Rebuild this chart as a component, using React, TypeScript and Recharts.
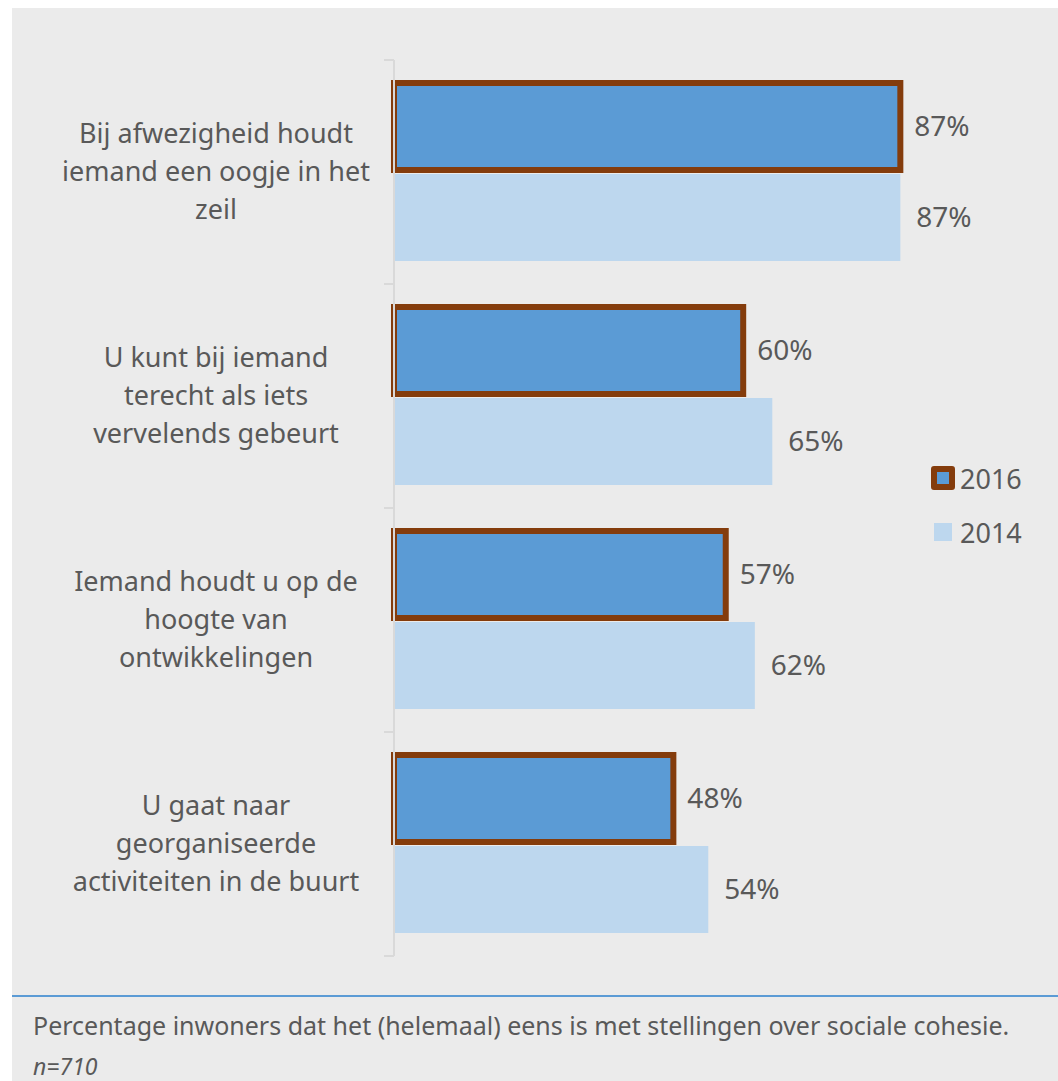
import { BarChart, Bar, XAxis, YAxis, LabelList } from "recharts";

const categories = [
  ["Bij afwezigheid houdt", "iemand een oogje in het", "zeil"],
  ["U kunt bij iemand", "terecht als iets", "vervelends gebeurt"],
  ["Iemand houdt u op de", "hoogte van", "ontwikkelingen"],
  ["U gaat naar", "georganiseerde", "activiteiten in de buurt"],
];
const values2016 = [87, 60, 57, 48];
const values2014 = [87, 65, 62, 54];
const seriesNames = ["2016", "2014"];

const data = categories.map((lines, i) => ({
  name: lines.join(" "),
  lines,
  y2016: values2016[i],
  y2014: values2014[i],
}));

const W = 1058;
const H = 1081;
const margin = { top: 60, right: 82, bottom: 125, left: 0 };
const FONT = "'Noto Sans', 'Open Sans', sans-serif";
const TEXT = "#595959";

function CategoryTick(props: any) {
  const { x, y, payload, index } = props;
  const lines: string[] = data[payload.index ?? index]?.lines ?? [payload.value];
  const band = (H - margin.top - margin.bottom) / categories.length;
  const lh = 38;
  const startY = y - ((lines.length - 1) * lh) / 2;
  return (
    <g>
      <line x1={x - 2} x2={x + 8} y1={y - band / 2} y2={y - band / 2} stroke="#d9d9d9" strokeWidth={2} />
      {index === categories.length - 1 && (
        <line x1={x - 2} x2={x + 8} y1={y + band / 2} y2={y + band / 2} stroke="#d9d9d9" strokeWidth={2} />
      )}
      <text x={216} y={startY} textAnchor="middle" fill={TEXT} fontSize={27} fontFamily={FONT}>
        {lines.map((l, i) => (
          <tspan key={i} x={216} y={startY + i * lh} dy="0.35em">
            {l}
          </tspan>
        ))}
      </text>
    </g>
  );
}

function LegendBox() {
  return (
    <div style={{ position: "absolute", left: 931, top: 458, fontFamily: FONT, fontSize: 27, color: TEXT }}>
      <div style={{ display: "flex", alignItems: "center", height: 40 }}>
        <span
          style={{
            width: 24,
            height: 24,
            boxSizing: "border-box",
            border: "6px solid #843C0C",
            borderRadius: 3,
            background: "#5B9BD5",
            marginRight: 5,
          }}
        />
        {seriesNames[0]}
      </div>
      <div style={{ display: "flex", alignItems: "center", height: 40, marginTop: 14 }}>
        <span style={{ width: 18, height: 18, background: "#BDD7EE", margin: "0 8px 0 3px" }} />
        {seriesNames[1]}
      </div>
    </div>
  );
}

export default function App() {
  return (
    <div style={{ position: "absolute", left: 0, top: 0, width: W, height: H, background: "#fff" }}>
      <div style={{ position: "absolute", left: 12, top: 8, right: 0, bottom: 0, background: "#ebebeb" }} />
      <div style={{ position: "absolute", left: 0, top: 0 }}>
        <BarChart
          width={W}
          height={H}
          data={data}
          layout="vertical"
          margin={margin}
          barSize={87}
          barGap={4}
        >
          <XAxis type="number" domain={[0, 100]} hide />
          <YAxis
            type="category"
            dataKey="name"
            width={394}
            axisLine={{ stroke: "#d9d9d9", strokeWidth: 2 }}
            tickLine={false}
            tick={<CategoryTick />}
            interval={0}
          />
          <Bar dataKey="y2016" name="2016" fill="#5B9BD5" stroke="#843C0C" strokeWidth={6} isAnimationActive={false}>
            <LabelList
              dataKey="y2016"
              position="right"
              offset={14}
              fill={TEXT}
              fontSize={28}
              fontFamily={FONT}
              formatter={(v: any) => `${v}%`}
            />
          </Bar>
          <Bar dataKey="y2014" name="2014" fill="#BDD7EE" isAnimationActive={false}>
            <LabelList
              dataKey="y2014"
              position="right"
              offset={16}
              fill={TEXT}
              fontSize={28}
              fontFamily={FONT}
              formatter={(v: any) => `${v}%`}
            />
          </Bar>
        </BarChart>
      </div>
      <LegendBox />
      <div style={{ position: "absolute", left: 12, right: 0, top: 995, height: 2, background: "#5B9BD5" }} />
      <div
        style={{
          position: "absolute",
          left: 33,
          top: 1008,
          fontFamily: FONT,
          fontSize: 25,
          color: TEXT,
          whiteSpace: "nowrap",
        }}
      >
        Percentage inwoners dat het (helemaal) eens is met stellingen over sociale cohesie.
      </div>
      <div
        style={{
          position: "absolute",
          left: 33,
          top: 1050,
          fontFamily: FONT,
          fontSize: 23,
          fontStyle: "italic",
          color: TEXT,
        }}
      >
        n=710
      </div>
    </div>
  );
}
